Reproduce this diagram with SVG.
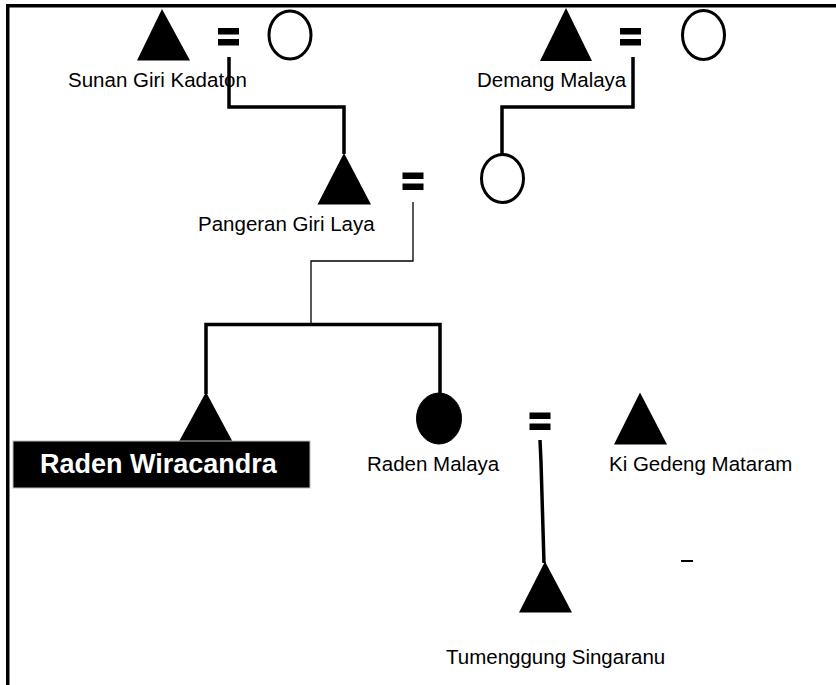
<svg xmlns="http://www.w3.org/2000/svg" width="836" height="685" viewBox="0 0 836 685">
  <style>
    .tri { fill: #000; }
    .female { fill: #fff; stroke: #000; stroke-width: 3; }
    .female-filled { fill: #000; stroke: #000; stroke-width: 1; }
    .eq { fill: #000; }
    .name { font-family: "Liberation Sans", Arial, sans-serif; font-size: 20.5px; fill: #000; }
    .name-hl { font-family: "Liberation Sans", Arial, sans-serif; font-size: 27px; font-weight: bold; fill: #fff; }
    .link { fill: none; stroke: #000; stroke-width: 3.5; stroke-linejoin: miter; }
    .link-thin { fill: none; stroke: #000; stroke-width: 1.3; }
  </style>
  <defs>
    <g id="equals">
      <rect x="0" y="0" width="21" height="6.5"/>
      <rect x="0" y="11" width="21" height="6.5"/>
    </g>
  </defs>

  <rect width="836" height="685" fill="#fff"/>

  <!-- frame -->
  <g id="frame" fill="#000">
    <rect x="6" y="4" width="830" height="3.5"/>
    <rect x="6" y="4" width="3.5" height="681"/>
  </g>

  <!-- connectors -->
  <g id="connectors">
    <polyline class="link" points="229,57 229,107 344,107 344,154"/>
    <polyline class="link" points="633,57 633,107 502,107 502,155"/>
    <polyline class="link-thin" points="413,202 413,261 311,261 311,323"/>
    <polyline class="link" points="206,394 206,324.5 440,324.5 440,394"/>
    <polyline class="link" points="540,440 541,462 544,563"/>
  </g>

  <!-- generation 1 -->
  <g id="sunan-giri-kadaton">
    <polygon class="tri" points="162,9 137,60.5 190,60.5"/>
    <text class="name" x="68" y="87">Sunan Giri Kadaton</text>
  </g>
  <g id="marriage-sunan" class="eq">
    <use href="#equals" x="218" y="28"/>
  </g>
  <g id="wife-sunan">
    <ellipse class="female" cx="290" cy="35" rx="21" ry="24"/>
  </g>

  <g id="demang-malaya">
    <polygon class="tri" points="566,8 540,61 592,61"/>
    <text class="name" x="477" y="87">Demang Malaya</text>
  </g>
  <g id="marriage-demang" class="eq">
    <use href="#equals" x="620" y="28"/>
  </g>
  <g id="wife-demang">
    <ellipse class="female" cx="703.5" cy="35" rx="21" ry="24.5"/>
  </g>

  <!-- generation 2 -->
  <g id="pangeran-giri-laya">
    <polygon class="tri" points="344,153 317.5,204.5 371,204.5"/>
    <text class="name" x="198" y="231">Pangeran Giri Laya</text>
  </g>
  <g id="marriage-pangeran" class="eq">
    <use href="#equals" x="402.5" y="172.5"/>
  </g>
  <g id="putri-demang">
    <ellipse class="female" cx="502.5" cy="178.5" rx="21" ry="24"/>
  </g>

  <!-- generation 3 -->
  <g id="raden-wiracandra">
    <polygon class="tri" points="206,392 179,441.5 232.5,441.5"/>
    <rect x="13" y="441" width="297" height="47" fill="#000" stroke="#bbb" stroke-width="1"/>
    <text class="name-hl" x="40" y="473">Raden Wiracandra</text>
  </g>
  <g id="raden-malaya">
    <ellipse class="female-filled" cx="439" cy="418.5" rx="22.5" ry="25.5"/>
    <text class="name" x="367" y="471">Raden Malaya</text>
  </g>
  <g id="marriage-malaya" class="eq">
    <use href="#equals" x="529.5" y="412.5"/>
  </g>
  <g id="ki-gedeng-mataram">
    <polygon class="tri" points="640,392.5 614,444.5 667,444.5"/>
    <text class="name" x="609" y="471">Ki Gedeng Mataram</text>
  </g>

  <!-- generation 4 -->
  <g id="tumenggung-singaranu">
    <polygon class="tri" points="545,561.5 519,612.5 572,612.5"/>
    <text class="name" x="446" y="664">Tumenggung Singaranu</text>
  </g>

  <!-- stray stroke -->
  <rect x="681" y="560" width="12" height="2" fill="#000"/>
</svg>
